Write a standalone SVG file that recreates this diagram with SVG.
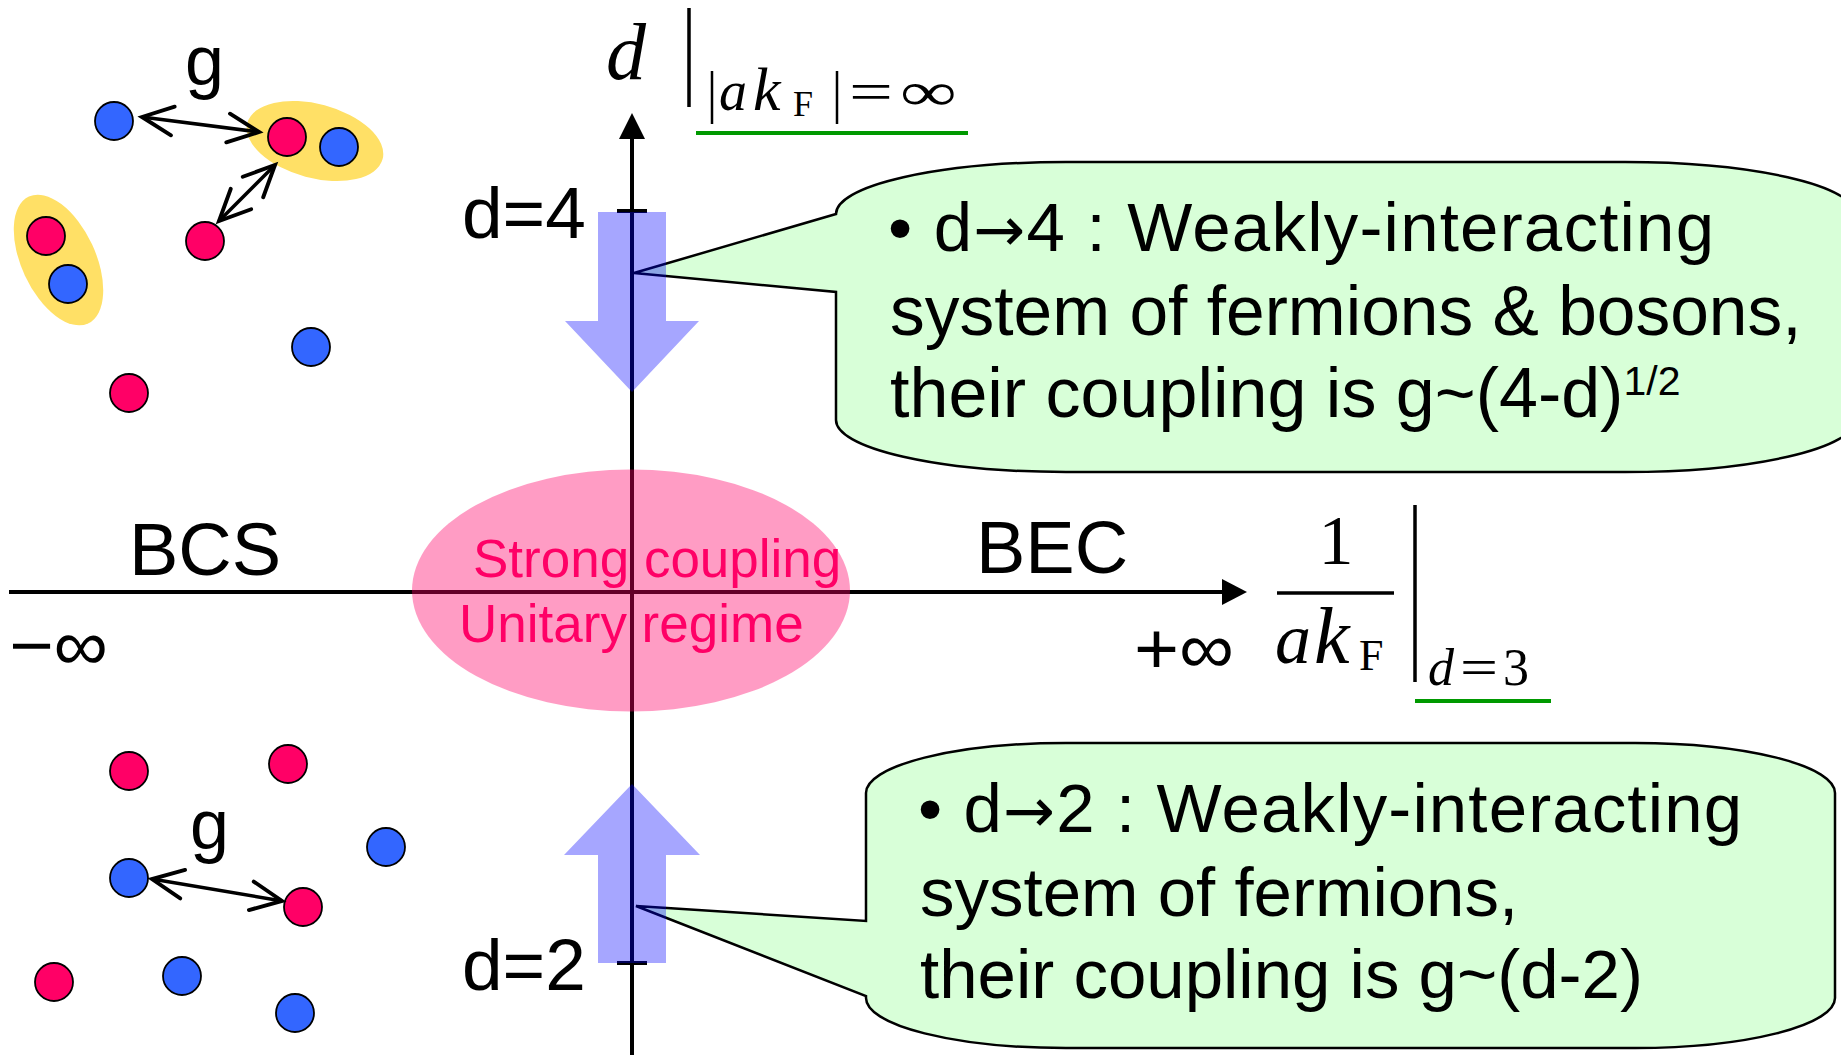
<svg xmlns="http://www.w3.org/2000/svg" width="1841" height="1055" viewBox="0 0 1841 1055">
  <style>
    .sans { font-family: "Liberation Sans", Arial, sans-serif; fill: #000; }
    .serif { font-family: "Liberation Serif", "Times New Roman", serif; fill: #000; }
    .it { font-style: italic; }
    .arr { font-family: "DejaVu Sans", sans-serif; font-size: 62px; }
    .axis { stroke: #000; stroke-width: 4; fill: none; }
    .bar { stroke: #000; stroke-width: 3.5; fill: none; }
    .fermion { fill: #FF0066; stroke: #000; stroke-width: 1.8; }
    .boson { fill: #3366FF; stroke: #000; stroke-width: 1.8; }
    .pair { fill: #FFE066; }
    .bubble { fill: #D8FFD8; stroke: #000; stroke-width: 2.5; stroke-linejoin: miter; }
    .flow { fill: #0000FF; fill-opacity: 0.35; }
    .link { stroke: #000; stroke-width: 3.5; fill: none; marker-start: url(#open); marker-end: url(#open); }
    .pink { fill: #FF0066; }
  </style>
  <defs>
    <marker id="open" markerUnits="userSpaceOnUse" markerWidth="40" markerHeight="40" refX="0" refY="0" viewBox="-32 -18 36 36" orient="auto-start-reverse" overflow="visible">
      <path d="M -28,-13 L 0,0 L -28,13" fill="none" stroke="#000" stroke-width="3.5" stroke-linecap="round" stroke-linejoin="miter"/>
    </marker>
  </defs>

  <rect width="1841" height="1055" fill="#fff"/>

  <!-- axes -->
  <g id="axes">
    <line class="axis" x1="632" y1="1055" x2="632" y2="136"/>
    <polygon points="632,113 619,139 645,139" fill="#000"/>
    <line class="axis" x1="9" y1="592" x2="1225" y2="592"/>
    <polygon points="1247,592 1222,579 1222,605" fill="#000"/>
    <line class="axis" x1="617" y1="211" x2="647" y2="211"/>
    <line class="axis" x1="617" y1="963" x2="647" y2="963"/>
  </g>

  <!-- unitary region -->
  <g id="unitary">
    <ellipse cx="631" cy="590.5" rx="219" ry="121" fill="#FF0066" fill-opacity="0.39"/>
    <text class="sans pink" x="473" y="577" font-size="53">Strong coupling</text>
    <text class="sans pink" x="459" y="642" font-size="53">Unitary regime</text>
  </g>

  <!-- axis labels -->
  <g id="axis-labels">
    <text class="sans" x="129" y="575" font-size="74">BCS</text>
    <text class="sans" x="976" y="573" font-size="74">BEC</text>
    <text class="sans" x="9" y="670" font-size="72" textLength="99" lengthAdjust="spacingAndGlyphs">−∞</text>
    <text class="sans" x="1134" y="673" font-size="72" textLength="100" lengthAdjust="spacingAndGlyphs">+∞</text>
    <text class="sans" x="462" y="238" font-size="73">d=4</text>
    <text class="sans" x="462" y="990" font-size="73">d=2</text>
  </g>

  <!-- d |_{|ak_F|=∞} -->
  <g id="label-d">
    <text class="serif it" x="606" y="79" font-size="80">d</text>
    <line class="bar" x1="689" y1="8" x2="689" y2="107"/>
    <line x1="712" y1="71" x2="712" y2="124" stroke="#000" stroke-width="2.5"/>
    <text class="serif it" x="719" y="110" font-size="56">a</text>
    <text class="serif it" x="753" y="110" font-size="62">k</text>
    <text class="serif" x="793" y="116" font-size="36">F</text>
    <line x1="837" y1="71" x2="837" y2="124" stroke="#000" stroke-width="2.5"/>
    <text class="serif" x="849" y="110" font-size="54" textLength="44" lengthAdjust="spacingAndGlyphs">=</text>
    <text class="serif" x="900" y="110" font-size="54" textLength="57" lengthAdjust="spacingAndGlyphs">∞</text>
    <line x1="696" y1="133" x2="968" y2="133" stroke="#009900" stroke-width="4"/>
  </g>

  <!-- 1/(ak_F) |_{d=3} -->
  <g id="label-x">
    <text class="serif" x="1336" y="564" font-size="70" text-anchor="middle">1</text>
    <line class="bar" x1="1277" y1="593" x2="1394" y2="593"/>
    <text class="serif it" x="1275" y="663" font-size="72">a</text>
    <text class="serif it" x="1314" y="663" font-size="80">k</text>
    <text class="serif" x="1359" y="670" font-size="44">F</text>
    <line class="bar" x1="1415" y1="505" x2="1415" y2="682"/>
    <text class="serif it" x="1428" y="685" font-size="52">d</text>
    <text class="serif" x="1460" y="685" font-size="52" textLength="38" lengthAdjust="spacingAndGlyphs">=</text>
    <text class="serif" x="1503" y="685" font-size="52">3</text>
    <line x1="1415" y1="701" x2="1551" y2="701" stroke="#009900" stroke-width="4"/>
  </g>

  <!-- d near 4: fermions and tightly bound pairs -->
  <g id="particles-d4">
    <ellipse class="pair" cx="315" cy="141" rx="70" ry="37" transform="rotate(15 315 141)"/>
    <ellipse class="pair" cx="58.5" cy="260" rx="37" ry="70" transform="rotate(-25 58.5 260)"/>
    <circle class="boson" cx="114" cy="121" r="19"/>
    <circle class="fermion" cx="287" cy="137" r="19"/>
    <circle class="boson" cx="339" cy="147" r="19"/>
    <circle class="fermion" cx="205" cy="241" r="19"/>
    <circle class="fermion" cx="46" cy="236" r="19"/>
    <circle class="boson" cx="68" cy="284" r="19"/>
    <circle class="boson" cx="311" cy="347" r="19"/>
    <circle class="fermion" cx="129" cy="393" r="19"/>
    <text class="sans" x="185" y="85" font-size="70">g</text>
  </g>

  <!-- d near 2: free fermions -->
  <g id="particles-d2">
    <circle class="fermion" cx="129" cy="771" r="19"/>
    <circle class="fermion" cx="288" cy="764" r="19"/>
    <circle class="boson" cx="386" cy="847" r="19"/>
    <circle class="boson" cx="129" cy="878" r="19"/>
    <circle class="fermion" cx="303" cy="907" r="19"/>
    <circle class="fermion" cx="54" cy="982" r="19"/>
    <circle class="boson" cx="182" cy="976" r="19"/>
    <circle class="boson" cx="295" cy="1013" r="19"/>
    <text class="sans" x="190" y="849" font-size="70">g</text>
  </g>

  <!-- interaction links -->
  <g id="connectors">
    <line class="link" x1="142" y1="117" x2="259" y2="132"/>
    <line class="link" x1="275" y1="165" x2="219" y2="221"/>
    <line class="link" x1="152" y1="879" x2="282" y2="901"/>
  </g>

  <!-- callout for d -> 4 -->
  <g id="callout-d4">
    <path class="bubble" d="M 836,214 A 230 52 0 0 1 1066,162 L 1625,162 A 230 52 0 0 1 1855,214 L 1855,420 A 230 52 0 0 1 1625,472 L 1066,472 A 230 52 0 0 1 836,420 L 836,292 L 634,273 Z"/>
    <text class="sans" x="888" y="251" font-size="69" textLength="826" lengthAdjust="spacing">• d<tspan class="arr">→</tspan>4 : Weakly-interacting</text>
    <text class="sans" x="890" y="335" font-size="69.5">system of fermions &amp; bosons,</text>
    <text class="sans" x="890" y="417" font-size="70">their coupling is g~(4-d)<tspan font-size="41" dy="-22">1/2</tspan></text>
  </g>

  <!-- callout for d -> 2 -->
  <g id="callout-d2">
    <path class="bubble" d="M 866,921 L 866,793 A 200 50 0 0 1 1066,743 L 1635,743 A 200 50 0 0 1 1835,793 L 1835,998 A 200 50 0 0 1 1635,1048 L 1066,1048 A 200 50 0 0 1 866,998 L 866,996 L 636,906 Z"/>
    <text class="sans" x="918" y="832" font-size="69" textLength="824" lengthAdjust="spacing">• d<tspan class="arr">→</tspan>2 : Weakly-interacting</text>
    <text class="sans" x="920" y="916" font-size="69">system of fermions,</text>
    <text class="sans" x="920" y="998" font-size="69">their coupling is g~(d-2)</text>
  </g>

  <!-- flow toward the limiting dimensions -->
  <g id="flow-arrows">
    <polygon class="flow" points="598,212 666,212 666,321 699,321 632,392 565,321 598,321"/>
    <polygon class="flow" points="598,963 666,963 666,855 700,855 632,784 564,855 598,855"/>
  </g>
</svg>
